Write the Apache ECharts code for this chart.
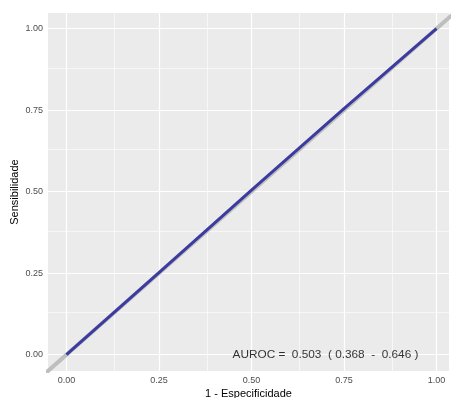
<!DOCTYPE html>
<html>
<head>
<meta charset="utf-8">
<script src="https://cdn.jsdelivr.net/npm/echarts@6/dist/echarts.min.js"></script>
<style>html,body{margin:0;padding:0;background:#fff}#c{width:452px;height:398px}</style>
</head>
<body>
<div id="c"></div>
<script>
// ROC curve points (1 - specificity, sensitivity)
var rocFpr = [0, 0.25, 0.5, 0.75, 1];
var rocTpr = [0, 0.252, 0.505, 0.755, 1];
// reference diagonal y = x across the plotting range
var refX = [-0.06, 1.05];
// tick labels
var majorTicks = [0, 0.25, 0.5, 0.75, 1];
var minorTicks = [0.125, 0.375, 0.625, 0.875];
var tickLabels = ['0.00', '0.25', '0.50', '0.75', '1.00'];
// annotation
var aurocText = 'AUROC =  0.503  ( 0.368  -  0.646 )';
var aurocPos = [0.7, 0];

var FONT = '"Liberation Sans", Arial, sans-serif';

var gridLines = [];
majorTicks.forEach(function (v) {
  gridLines.push({ xAxis: v, lineStyle: { color: '#fff', width: 1.2 } });
  gridLines.push({ yAxis: v, lineStyle: { color: '#fff', width: 1.2 } });
});
minorTicks.forEach(function (v) {
  gridLines.push({ xAxis: v, lineStyle: { color: '#fff', width: 0.6 } });
  gridLines.push({ yAxis: v, lineStyle: { color: '#fff', width: 0.6 } });
});

function fmt(v) {
  for (var i = 0; i < majorTicks.length; i++) {
    if (Math.abs(v - majorTicks[i]) < 1e-9) return tickLabels[i];
  }
  return '';
}

var chart = echarts.init(document.getElementById('c'), null, { renderer: 'canvas' });
chart.setOption({
  animation: false,
  backgroundColor: '#fff',
  grid: {
    left: 48, right: 3, top: 13, bottom: 27,
    show: true, backgroundColor: '#EBEBEB', borderWidth: 0,
    containLabel: false,
    outerBoundsMode: 'none'
  },
  xAxis: {
    type: 'value',
    min: -0.05, max: 1.0338,
    name: '1 - Especificidade',
    nameLocation: 'middle',
    nameGap: 17,
    nameMoveOverlap: false,
    nameTextStyle: { fontFamily: FONT, fontSize: 11, color: '#000' },
    axisLine: { show: false },
    axisTick: { show: true, length: 3, lineStyle: { color: '#333', width: 1 }, customValues: majorTicks },
    axisLabel: { show: true, fontFamily: FONT, fontSize: 9, color: '#4D4D4D', margin: 5, customValues: majorTicks, formatter: fmt },
    splitLine: { show: false },
    minorSplitLine: { show: false }
  },
  yAxis: {
    type: 'value',
    min: -0.05, max: 1.048,
    name: 'Sensibilidade',
    nameLocation: 'middle',
    nameGap: 28,
    nameMoveOverlap: false,
    nameRotate: 90,
    nameTextStyle: { fontFamily: FONT, fontSize: 11, color: '#000' },
    axisLine: { show: false },
    axisTick: { show: true, length: 3, lineStyle: { color: '#333', width: 1 }, customValues: majorTicks },
    axisLabel: { show: true, fontFamily: FONT, fontSize: 9, color: '#4D4D4D', margin: 5, customValues: majorTicks, formatter: fmt },
    splitLine: { show: false },
    minorSplitLine: { show: false }
  },
  series: [
    {
      type: 'line',
      data: [],
      z: 1,
      silent: true,
      markLine: {
        z: 1,
        silent: true,
        symbol: ['none', 'none'],
        label: { show: false },
        lineStyle: { type: 'solid' },
        animation: false,
        data: gridLines
      }
    },
    {
      type: 'line',
      z: 3,
      data: refX.map(function (x) { return [x, x]; }),
      showSymbol: false,
      symbol: 'none',
      lineStyle: { color: '#BEBEBE', width: 4 },
      silent: true
    },
    {
      type: 'line',
      z: 4,
      data: rocFpr.map(function (x, i) { return [x, rocTpr[i]]; }),
      showSymbol: false,
      symbol: 'none',
      lineStyle: { color: '#3C3CA0', width: 3 },
      silent: true
    },
    {
      type: 'scatter',
      z: 5,
      symbolSize: 0,
      data: [aurocPos],
      silent: true,
      label: {
        show: true,
        position: 'inside',
        formatter: aurocText,
        fontFamily: FONT,
        fontSize: 11.8,
        color: '#000'
      }
    }
  ]
});
</script>
</body>
</html>
